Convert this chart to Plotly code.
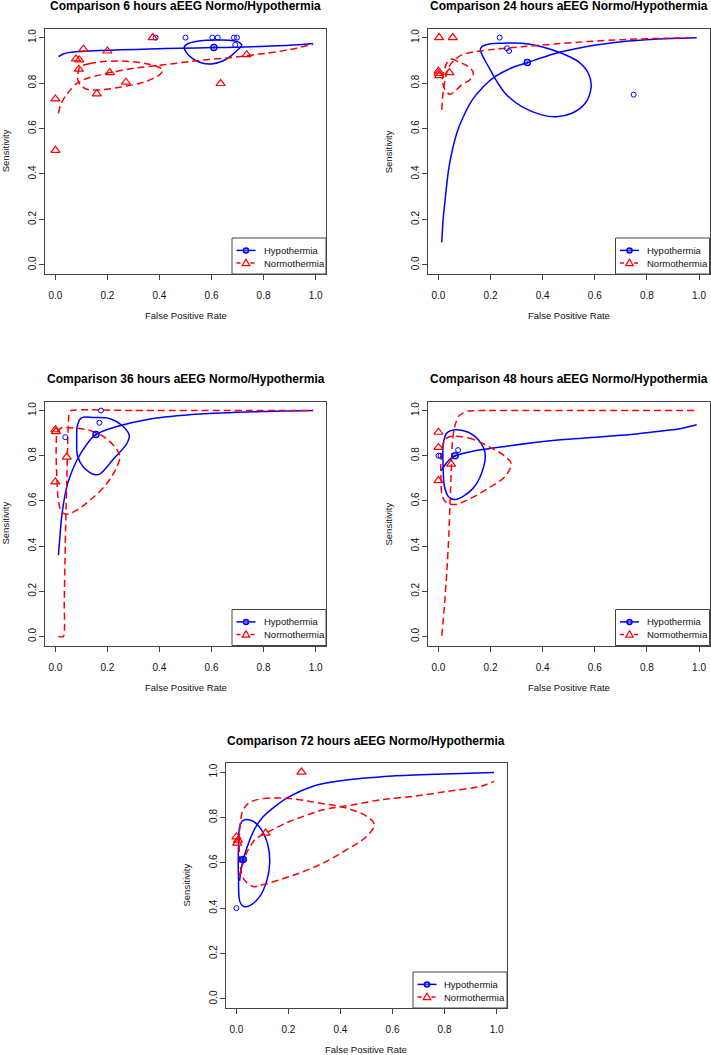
import plotly.graph_objects as go

W, H = 711, 1055
FONT = "Liberation Sans, Arial, Helvetica, sans-serif"
BLUE = "#0000FF"
RED = "#FF0000"
AXIS_COLOR = "#444444"

TITLES = [
    "Comparison 6 hours aEEG Normo/Hypothermia",
    "Comparison 24 hours aEEG Normo/Hypothermia",
    "Comparison 36 hours aEEG Normo/Hypothermia",
    "Comparison 48 hours aEEG Normo/Hypothermia",
    "Comparison 72 hours aEEG Normo/Hypothermia",
]
X_LABEL = "False Positive Rate"
Y_LABEL = "Sensitivity"
LEGEND_LABELS = ["Hypothermia", "Normothermia"]
TICK_VALUES = [0.0, 0.2, 0.4, 0.6, 0.8, 1.0]
TICK_LABELS = ["0.0", "0.2", "0.4", "0.6", "0.8", "1.0"]

# ---------------- 6 hours ----------------
H6_STUDY_FPR = [0.385, 0.50, 0.603, 0.624, 0.686, 0.698, 0.691]
H6_STUDY_SENS = [1.0, 1.0, 1.0, 1.0, 1.0, 1.0, 0.968]
H6_SUMMARY = [0.609, 0.956]
H6_SROC_FPR = [0.012, 0.03, 0.056, 0.10, 0.17, 0.25, 0.364, 0.48, 0.609, 0.70, 0.81, 0.90, 0.99]
H6_SROC_SENS = [0.916, 0.928, 0.935, 0.939, 0.943, 0.946, 0.950, 0.953, 0.956, 0.958, 0.962, 0.966, 0.974]
H6_REGION_FPR = [0.495, 0.51, 0.54, 0.58, 0.63, 0.67, 0.70, 0.716, 0.70, 0.675, 0.645, 0.60, 0.56, 0.525, 0.503]
H6_REGION_SENS = [0.958, 0.974, 0.983, 0.988, 0.989, 0.988, 0.982, 0.967, 0.945, 0.920, 0.898, 0.884, 0.889, 0.910, 0.935]
N6_STUDY_FPR = [0.374, 0.1075, 0.20, 0.079, 0.092, 0.09, 0.209, 0.271, 0.159, 0.0, 0.0, 0.635, 0.735]
N6_STUDY_SENS = [1.0, 0.949, 0.941, 0.906, 0.902, 0.861, 0.846, 0.804, 0.752, 0.730, 0.504, 0.798, 0.925]
N6_SROC_FPR = [0.0115, 0.02, 0.037, 0.06, 0.082, 0.12, 0.172, 0.209, 0.30, 0.415, 0.556, 0.684, 0.81, 0.90, 0.991]
N6_SROC_SENS = [0.667, 0.705, 0.74, 0.773, 0.799, 0.82, 0.836, 0.846, 0.865, 0.88, 0.90, 0.913, 0.931, 0.947, 0.971]
N6_REGION_FPR = [0.095, 0.13, 0.172, 0.248, 0.325, 0.389, 0.412, 0.40, 0.365, 0.325, 0.248, 0.172, 0.12, 0.095, 0.085, 0.088]
N6_REGION_SENS = [0.872, 0.885, 0.893, 0.897, 0.890, 0.874, 0.858, 0.836, 0.815, 0.799, 0.782, 0.770, 0.773, 0.792, 0.821, 0.850]

# ---------------- 24 hours ----------------
H24_STUDY_FPR = [0.235, 0.263, 0.271, 0.749]
H24_STUDY_SENS = [1.0, 0.953, 0.941, 0.749]
H24_SUMMARY = [0.341, 0.890]
H24_SROC_FPR = [0.0128, 0.018, 0.0256, 0.041, 0.0703, 0.0959, 0.13, 0.172, 0.217, 0.28, 0.341, 0.448, 0.575, 0.703, 0.831, 0.991]
H24_SROC_SENS = [0.0997, 0.20, 0.286, 0.433, 0.579, 0.653, 0.726, 0.784, 0.828, 0.866, 0.890, 0.930, 0.962, 0.982, 0.993, 0.999]
H24_REGION_FPR = [0.161, 0.166, 0.192, 0.243, 0.32, 0.396, 0.473, 0.537, 0.575, 0.586, 0.563, 0.512, 0.454, 0.396, 0.32, 0.256, 0.192]
H24_REGION_SENS = [0.946, 0.96, 0.971, 0.975, 0.975, 0.96, 0.931, 0.894, 0.843, 0.784, 0.711, 0.667, 0.652, 0.66, 0.696, 0.755, 0.872]
N24_STUDY_FPR = [0.0026, 0.055, 0.0, 0.0, 0.003, 0.042]
N24_STUDY_SENS = [1.0, 1.0, 0.852, 0.842, 0.833, 0.846]
N24_SROC_FPR = [0.0128, 0.017, 0.023, 0.032, 0.045, 0.065, 0.0895, 0.14, 0.192, 0.32, 0.448, 0.575, 0.703, 0.831, 0.96]
N24_SROC_SENS = [0.682, 0.75, 0.80, 0.845, 0.88, 0.905, 0.924, 0.938, 0.946, 0.96, 0.972, 0.983, 0.991, 0.996, 0.999]
N24_REGION_FPR = [0.032, 0.051, 0.077, 0.115, 0.134, 0.121, 0.0895, 0.045, 0.0256, 0.015, 0.023]
N24_REGION_SENS = [0.887, 0.906, 0.894, 0.872, 0.845, 0.815, 0.792, 0.751, 0.77, 0.814, 0.858]

# ---------------- 36 hours ----------------
H36_STUDY_FPR = [0.175, 0.169, 0.038]
H36_STUDY_SENS = [1.0, 0.946, 0.882]
H36_SUMMARY = [0.156, 0.894]
H36_SROC_FPR = [0.0115, 0.018, 0.024, 0.0435, 0.06, 0.082, 0.12, 0.156, 0.236, 0.364, 0.556, 0.812, 0.991]
H36_SROC_SENS = [0.36, 0.45, 0.529, 0.662, 0.72, 0.779, 0.85, 0.894, 0.929, 0.963, 0.985, 0.996, 1.0]
H36_REGION_FPR = [0.10, 0.15, 0.21, 0.255, 0.284, 0.274, 0.223, 0.172, 0.152, 0.1075, 0.085, 0.082, 0.0845]
H36_REGION_SENS = [0.968, 0.969, 0.964, 0.935, 0.89, 0.853, 0.785, 0.72, 0.716, 0.75, 0.80, 0.868, 0.934]
N36_STUDY_FPR = [0.0, 0.002, 0.0435, 0.0]
N36_STUDY_SENS = [0.915, 0.907, 0.794, 0.684]
N36_SROC_FPR = [0.0115, 0.031, 0.034, 0.037, 0.040, 0.044, 0.047, 0.05, 0.053, 0.06, 0.3, 0.99]
N36_SROC_SENS = [0.0, 0.0, 0.15, 0.35, 0.52, 0.70, 0.85, 0.95, 0.99, 1.0, 1.0, 1.0]
N36_REGION_FPR = [0.05, 0.133, 0.197, 0.242, 0.248, 0.236, 0.197, 0.133, 0.082, 0.0435, 0.024, 0.0115, 0.005, 0.003, 0.008, 0.024]
N36_REGION_SENS = [0.924, 0.912, 0.875, 0.816, 0.794, 0.75, 0.676, 0.603, 0.559, 0.541, 0.551, 0.603, 0.72, 0.838, 0.904, 0.924]

# ---------------- 48 hours ----------------
H48_STUDY_FPR = [0.0, 0.008, 0.0754]
H48_STUDY_SENS = [0.80, 0.80, 0.825]
H48_SUMMARY = [0.064, 0.80]
H48_SROC_FPR = [0.01, 0.0256, 0.04, 0.064, 0.128, 0.256, 0.448, 0.639, 0.75, 0.831, 0.92, 0.991]
H48_SROC_SENS = [0.734, 0.76, 0.78, 0.80, 0.819, 0.841, 0.868, 0.885, 0.895, 0.906, 0.918, 0.937]
H48_REGION_FPR = [0.032, 0.064, 0.115, 0.153, 0.179, 0.166, 0.128, 0.064, 0.038, 0.023, 0.018, 0.019]
H48_REGION_SENS = [0.90, 0.915, 0.904, 0.871, 0.812, 0.724, 0.65, 0.606, 0.62, 0.665, 0.753, 0.856]
N48_STUDY_FPR = [0.0, 0.0, 0.0, 0.0486]
N48_STUDY_SENS = [0.904, 0.837, 0.69, 0.763]
N48_SROC_FPR = [0.0128, 0.022, 0.032, 0.04, 0.045, 0.05, 0.054, 0.065, 0.077, 0.095, 0.115, 0.19, 0.5, 0.991]
N48_SROC_SENS = [0.003, 0.12, 0.282, 0.45, 0.606, 0.75, 0.871, 0.94, 0.974, 0.99, 0.998, 1.0, 1.0, 1.0]
N48_REGION_FPR = [0.038, 0.115, 0.192, 0.256, 0.279, 0.256, 0.192, 0.115, 0.064, 0.032, 0.015, 0.01, 0.01, 0.019]
N48_REGION_SENS = [0.882, 0.878, 0.841, 0.797, 0.765, 0.709, 0.657, 0.606, 0.584, 0.591, 0.621, 0.694, 0.782, 0.856]

# ---------------- 72 hours ----------------
H72_STUDY_FPR = [0.0, 0.02, 0.03]
H72_STUDY_SENS = [0.40, 0.615, 0.615]
H72_SUMMARY = [0.026, 0.615]
H72_SROC_FPR = [0.012, 0.019, 0.026, 0.051, 0.075, 0.10, 0.15, 0.20, 0.30, 0.40, 0.60, 0.80, 0.99]
H72_SROC_SENS = [0.52, 0.577, 0.614, 0.70, 0.76, 0.80, 0.85, 0.89, 0.94, 0.962, 0.983, 0.992, 0.998]
H72_REGION_FPR = [0.013, 0.026, 0.064, 0.096, 0.122, 0.128, 0.118, 0.09, 0.051, 0.026, 0.013, 0.008, 0.008]
H72_REGION_SENS = [0.761, 0.787, 0.783, 0.746, 0.673, 0.599, 0.526, 0.452, 0.411, 0.408, 0.43, 0.526, 0.673]
N72_STUDY_FPR = [0.25, 0.0, 0.003, 0.006, 0.112]
N72_STUDY_SENS = [1.0, 0.714, 0.687, 0.70, 0.731]
N72_SROC_FPR = [0.0103, 0.019, 0.039, 0.071, 0.112, 0.206, 0.334, 0.45, 0.553, 0.68, 0.81, 0.94, 0.99]
N72_SROC_SENS = [0.54, 0.575, 0.643, 0.702, 0.731, 0.783, 0.834, 0.856, 0.878, 0.893, 0.915, 0.937, 0.959]
N72_REGION_FPR = [0.051, 0.103, 0.206, 0.321, 0.424, 0.501, 0.53, 0.501, 0.424, 0.321, 0.206, 0.103, 0.064, 0.026, 0.013, 0.013, 0.026]
N72_REGION_SENS = [0.866, 0.883, 0.883, 0.863, 0.841, 0.805, 0.768, 0.717, 0.658, 0.592, 0.54, 0.504, 0.496, 0.533, 0.614, 0.746, 0.834]

PANELS = [
    dict(title=TITLES[0], h_fpr=H6_STUDY_FPR, h_sens=H6_STUDY_SENS, h_sum=H6_SUMMARY,
         h_sroc=(H6_SROC_FPR, H6_SROC_SENS), h_reg=(H6_REGION_FPR, H6_REGION_SENS),
         n_fpr=N6_STUDY_FPR, n_sens=N6_STUDY_SENS,
         n_sroc=(N6_SROC_FPR, N6_SROC_SENS), n_reg=(N6_REGION_FPR, N6_REGION_SENS)),
    dict(title=TITLES[1], h_fpr=H24_STUDY_FPR, h_sens=H24_STUDY_SENS, h_sum=H24_SUMMARY,
         h_sroc=(H24_SROC_FPR, H24_SROC_SENS), h_reg=(H24_REGION_FPR, H24_REGION_SENS),
         n_fpr=N24_STUDY_FPR, n_sens=N24_STUDY_SENS,
         n_sroc=(N24_SROC_FPR, N24_SROC_SENS), n_reg=(N24_REGION_FPR, N24_REGION_SENS)),
    dict(title=TITLES[2], h_fpr=H36_STUDY_FPR, h_sens=H36_STUDY_SENS, h_sum=H36_SUMMARY,
         h_sroc=(H36_SROC_FPR, H36_SROC_SENS), h_reg=(H36_REGION_FPR, H36_REGION_SENS),
         n_fpr=N36_STUDY_FPR, n_sens=N36_STUDY_SENS,
         n_sroc=(N36_SROC_FPR, N36_SROC_SENS), n_reg=(N36_REGION_FPR, N36_REGION_SENS)),
    dict(title=TITLES[3], h_fpr=H48_STUDY_FPR, h_sens=H48_STUDY_SENS, h_sum=H48_SUMMARY,
         h_sroc=(H48_SROC_FPR, H48_SROC_SENS), h_reg=(H48_REGION_FPR, H48_REGION_SENS),
         n_fpr=N48_STUDY_FPR, n_sens=N48_STUDY_SENS,
         n_sroc=(N48_SROC_FPR, N48_SROC_SENS), n_reg=(N48_REGION_FPR, N48_REGION_SENS)),
    dict(title=TITLES[4], h_fpr=H72_STUDY_FPR, h_sens=H72_STUDY_SENS, h_sum=H72_SUMMARY,
         h_sroc=(H72_SROC_FPR, H72_SROC_SENS), h_reg=(H72_REGION_FPR, H72_REGION_SENS),
         n_fpr=N72_STUDY_FPR, n_sens=N72_STUDY_SENS,
         n_sroc=(N72_SROC_FPR, N72_SROC_SENS), n_reg=(N72_REGION_FPR, N72_REGION_SENS)),
]

# plot boxes in pixels: left, top, right, bottom
BOXES = [
    (45, 28.5, 326, 274),
    (428, 28.5, 709.5, 274),
    (45, 401.5, 326, 645.5),
    (428, 401.5, 709.5, 645.5),
    (226, 763, 507, 1008),
]


def px(x):
    return x / W


def py(y):
    return 1 - y / H


def closed(seq):
    return list(seq) + [seq[0]]


DASH = "7px,4px"
LABEL_SIZE = 9.5
fig = go.Figure()
shapes = []
annotations = []

for i, (p, box) in enumerate(zip(PANELS, BOXES), start=1):
    l, t, r, b = box
    sfx = "" if i == 1 else str(i)
    xa, ya = "x" + sfx, "y" + sfx
    common = dict(range=[-0.04, 1.04], tickvals=TICK_VALUES, ticktext=TICK_LABELS,
                  ticks="outside", ticklen=5, tickwidth=1, tickcolor=AXIS_COLOR,
                  showline=True, mirror=True, linecolor=AXIS_COLOR, linewidth=1,
                  showgrid=False, zeroline=False, fixedrange=True,
                  tickfont=dict(family=FONT, size=10, color="#111111"))
    fig.update_layout({
        "xaxis" + sfx: dict(domain=[px(l), px(r)], anchor=ya, ticklabelstandoff=7, **common),
        "yaxis" + sfx: dict(domain=[py(b), py(t)], anchor=xa, tickangle=-90,
                            ticklabelstandoff=-1, **common),
    })

    # Hypothermia SROC + confidence region
    fig.add_trace(go.Scatter(x=p["h_sroc"][0], y=p["h_sroc"][1], mode="lines",
                             line=dict(color=BLUE, width=1.5, shape="spline", smoothing=0.8),
                             xaxis=xa, yaxis=ya, showlegend=False, hoverinfo="skip"))
    fig.add_trace(go.Scatter(x=closed(p["h_reg"][0]), y=closed(p["h_reg"][1]), mode="lines",
                             line=dict(color=BLUE, width=1.5, shape="spline", smoothing=1.0),
                             xaxis=xa, yaxis=ya, showlegend=False, hoverinfo="skip"))
    # Normothermia SROC + confidence region
    fig.add_trace(go.Scatter(x=p["n_sroc"][0], y=p["n_sroc"][1], mode="lines",
                             line=dict(color=RED, width=1.5, dash=DASH, shape="spline", smoothing=0.6),
                             xaxis=xa, yaxis=ya, showlegend=False, hoverinfo="skip"))
    fig.add_trace(go.Scatter(x=closed(p["n_reg"][0]), y=closed(p["n_reg"][1]), mode="lines",
                             line=dict(color=RED, width=1.5, dash=DASH, shape="spline", smoothing=1.0),
                             xaxis=xa, yaxis=ya, showlegend=False, hoverinfo="skip"))
    # study points
    fig.add_trace(go.Scatter(x=p["h_fpr"], y=p["h_sens"], mode="markers",
                             marker=dict(symbol="circle-open", size=5, color=BLUE, line=dict(width=1)),
                             xaxis=xa, yaxis=ya, showlegend=False, name=LEGEND_LABELS[0]))
    fig.add_trace(go.Scatter(x=[p["h_sum"][0]], y=[p["h_sum"][1]], mode="markers",
                             marker=dict(symbol="circle-open-dot", size=6, color=BLUE, line=dict(width=1.5)),
                             xaxis=xa, yaxis=ya, showlegend=False, name=LEGEND_LABELS[0]))
    fig.add_trace(go.Scatter(x=p["n_fpr"], y=p["n_sens"], mode="markers",
                             marker=dict(symbol="triangle-up-open", size=8, color=RED, line=dict(width=1.2)),
                             xaxis=xa, yaxis=ya, showlegend=False, name=LEGEND_LABELS[1]))

    # titles
    annotations.append(dict(text="<b>" + p["title"] + "</b>", x=px((l + r) / 2), y=py(t - 22.5),
                            xref="paper", yref="paper", xanchor="center", yanchor="middle",
                            showarrow=False, font=dict(family=FONT, size=12, color="#000000")))
    annotations.append(dict(text=X_LABEL, x=px((l + r) / 2), y=py(b + 41.5),
                            xref="paper", yref="paper", xanchor="center", yanchor="middle",
                            showarrow=False, font=dict(family=FONT, size=LABEL_SIZE, color="#111111")))
    annotations.append(dict(text=Y_LABEL, x=px(l - 40), y=py((t + b) / 2), textangle=-90,
                            xref="paper", yref="paper", xanchor="center", yanchor="middle",
                            showarrow=False, font=dict(family=FONT, size=LABEL_SIZE, color="#111111")))

    # legend (bottom right)
    lx0, ly0 = r - 94, b - 36
    shapes.append(dict(type="rect", xref="paper", yref="paper", x0=px(lx0), x1=px(r),
                       y0=py(b), y1=py(ly0), line=dict(color=AXIS_COLOR, width=1),
                       fillcolor="white", layer="above"))
    rows = [ly0 + 12.4, ly0 + 25.0]
    shapes.append(dict(type="line", xref="paper", yref="paper", x0=px(lx0 + 4.5), x1=px(lx0 + 23.5),
                       y0=py(rows[0]), y1=py(rows[0]), line=dict(color=BLUE, width=1.5)))
    cx = lx0 + 14
    shapes.append(dict(type="circle", xref="paper", yref="paper", x0=px(cx - 2.5), x1=px(cx + 2.5),
                       y0=py(rows[0] + 2.5), y1=py(rows[0] - 2.5), line=dict(color=BLUE, width=1.5),
                       fillcolor="rgba(120,120,255,0.6)"))
    shapes.append(dict(type="line", xref="paper", yref="paper", x0=px(lx0 + 4.5), x1=px(lx0 + 23.5),
                       y0=py(rows[1]), y1=py(rows[1]), line=dict(color=RED, width=1.5, dash="4px,3px")))
    ty = rows[1]
    tri = "M {},{} L {},{} L {},{} Z".format(px(cx - 3.8), py(ty + 2.6), px(cx + 3.8), py(ty + 2.6),
                                            px(cx), py(ty - 3.8))
    shapes.append(dict(type="path", xref="paper", yref="paper", path=tri,
                       line=dict(color=RED, width=1.2), fillcolor="white"))
    for lab, yy in zip(LEGEND_LABELS, rows):
        annotations.append(dict(text=lab, x=px(lx0 + 29.5), y=py(yy), xref="paper", yref="paper",
                                xanchor="left", yanchor="middle", showarrow=False,
                                font=dict(family=FONT, size=LABEL_SIZE, color="#111111")))

fig.update_layout(width=W, height=H, autosize=False,
                  margin=dict(l=0, r=0, t=0, b=0, pad=0),
                  paper_bgcolor="white", plot_bgcolor="white",
                  showlegend=False, shapes=shapes, annotations=annotations)

fig.write_html(
    "out.html",
    config={"displayModeBar": False},
    post_script="document.body.style.margin='0';document.body.style.padding='0';"
                "document.body.style.overflow='hidden';"
                "document.documentElement.style.overflow='hidden';",
)
